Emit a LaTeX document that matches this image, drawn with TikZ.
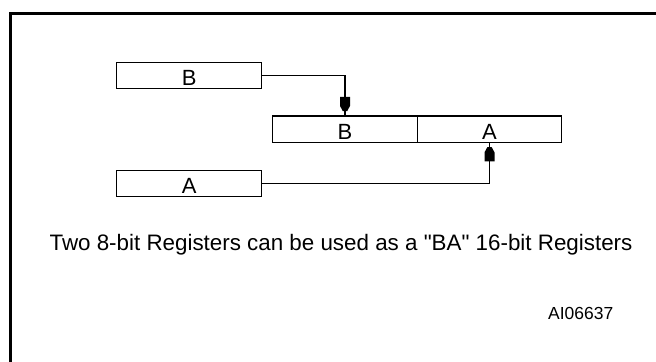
\documentclass[tikz,border=0pt]{standalone}
\usepackage{fontspec}
\setmainfont{Liberation Sans}[Ligatures=TeXOff]
\usetikzlibrary{decorations.markings}
\tikzset{
  regbox/.style={draw, line width=1.2bp, inner xsep=0pt, inner ysep=0pt,
    minimum width=145bp, minimum height=25.8bp, text height=22.5bp, text depth=3.3bp,
    font=\fontsize{22bp}{24bp}\selectfont},
  cellbox/.style={regbox, minimum width=144.5bp, minimum height=26.3bp, text height=23.3bp, text depth=3bp},
  plug/.style={postaction={decorate}, decoration={markings, mark=at position 1 with {
      \fill (-4.3bp,-2.2bp) -- (-9.5bp,-5bp) -- (-18.5bp,-5bp) -- (-18.5bp,5bp) -- (-9.5bp,5bp) -- (-4.3bp,2.2bp) -- cycle;}}},
  wire/.style={line width=1.2bp, plug},
  caption/.style={font=\fontsize{22.37bp}{26bp}\selectfont, inner sep=0pt, anchor=base},
  code/.style={font=\fontsize{17.45bp}{20bp}\selectfont, inner sep=0pt, anchor=base west}
}
\begin{document}
\begin{tikzpicture}[x=1bp,y=-1bp]
\useasboundingbox (0,0) rectangle (656,361);
\clip (0,0) rectangle (656,361);
\fill[white] (0,0) rectangle (656,361);
% frame (top and left edges)
\draw[line width=3bp] (10,400) -- (10,13.2) -- (700,13.2);
% registers
\node[regbox] (smallB) at (189.2,75.5) {B};
\node[regbox] (smallA) at (189.2,183.7) {A};
\node[cellbox] (bigB) at (345,129.15) {B};
\node[cellbox] (bigA) at (489.5,129.15) {A};
% connectors
\draw[wire] (smallB.east) -| (bigB.north);
\draw[wire] (smallA.east) -| (bigA.south);
% texts
\node[caption] (cap) at (341,250.5) {Two 8-bit Registers can be used as a "BA" 16-bit Registers};
\node[code] (id) at (548,319.5) {AI06637};
\end{tikzpicture}
\end{document}
